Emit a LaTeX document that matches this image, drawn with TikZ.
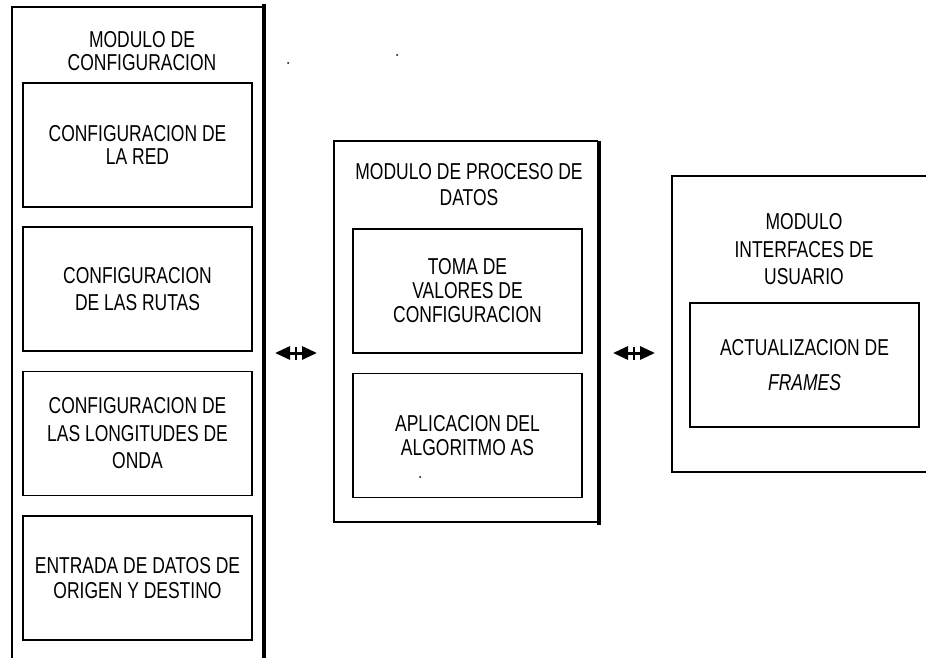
\documentclass[tikz,border=0pt]{standalone}
\usepackage{fontspec}
\setmainfont[FakeStretch=0.76]{Liberation Sans}
\usetikzlibrary{arrows.meta}
\newcommand\fs[1]{\fontsize{23}{#1}\selectfont}
\tikzset{
  thin line/.style={line width=1.3pt},
  thick edge/.style={line width=4pt},
  box/.style={draw, thin line, minimum width=229pt, minimum height=124pt,
              inner sep=0pt, align=center},
  title/.style={align=center, inner sep=0pt},
  dbl/.style={line width=3pt,
              {Triangle[length=15pt,width=13pt]}-{Triangle[length=15pt,width=13pt]}},
  tick/.style={fill=black, minimum width=2pt, minimum height=13pt, inner sep=0pt},
}
\begin{document}
\begin{tikzpicture}[x=1pt, y=-1pt]
\useasboundingbox (0,0) rectangle (926,658);

% ---- configuration module ----
\draw[thin line] (12,658) -- (12,7) -- (263,7);
\draw[thick edge] (264,4) -- (264,658);
\node[title, font=\fs{23}] (cfgtitle) at (142,51.5) {MODULO DE\\CONFIGURACION};
\node[box, font=\fs{23}] (red) at (137.5,145) {CONFIGURACION DE\\LA RED};
\node[box, font=\fs{27}] (rutas) at (137.5,289) {CONFIGURACION\\DE LAS RUTAS};
\node[box, font=\fs{27.5}] (onda) at (137.5,433.5) {CONFIGURACION DE\\LAS LONGITUDES DE\\ONDA};
\node[box, font=\fs{25}] (entrada) at (137.5,578) {ENTRADA DE DATOS DE\\ORIGEN Y DESTINO};

% ---- data processing module ----
\draw[thin line] (598,522) -- (334,522) -- (334,141) -- (598,141);
\draw[thick edge] (599,141) -- (599,525);
\node[title, font=\fs{26}] (proctitle) at (469,185) {MODULO DE PROCESO DE\\DATOS};
\node[box, font=\fs{24}] (toma) at (467.5,291) {TOMA DE\\VALORES DE\\CONFIGURACION};
\node[box, font=\fs{24}] (aplic) at (467.5,435.5) {APLICACION DEL\\ALGORITMO AS};

% ---- user interface module ----
\draw[thin line] (926,176) -- (672,176) -- (672,472) -- (926,472);
\node[title, font=\fs{27.5}] (uititle) at (804,249.5) {MODULO\\INTERFACES DE\\USUARIO};
\node[box, font=\fs{35}] (frames) at (804.5,365) {ACTUALIZACION DE\\{\itshape FRAMES}};

% ---- links between modules ----
\coordinate (l1) at (275,353);
\coordinate (r1) at (317,353);
\coordinate (l2) at (613,353);
\coordinate (r2) at (655,353);
\draw[dbl] (l1) -- node[tick] (t1) {} (r1);
\draw[dbl] (l2) -- node[tick] (t2) {} (r2);

% ---- stray marks ----
\fill (288,63) circle (1pt);
\fill (397,55) circle (1pt);
\fill (420,477) circle (1pt);
\end{tikzpicture}
\end{document}
